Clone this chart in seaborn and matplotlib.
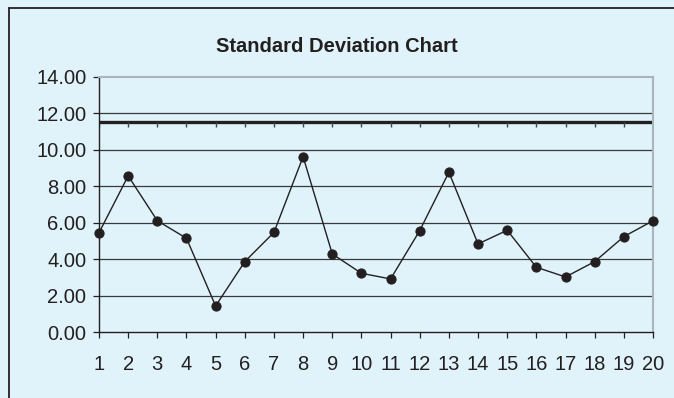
import matplotlib
matplotlib.use("Agg")
import matplotlib.pyplot as plt
from matplotlib.lines import Line2D
from matplotlib.ticker import FormatStrFormatter
import seaborn as sns
import pandas as pd

# Subgroup numbers and their standard deviations
samples = list(range(1, 21))
std_dev = [5.46, 8.58, 6.12, 5.16, 1.45, 3.88, 5.48, 9.63, 4.30, 3.24,
           2.93, 5.58, 8.78, 4.85, 5.60, 3.57, 3.04, 3.88, 5.25, 6.12]
ucl = 11.56
y_ticks = [0, 2, 4, 6, 8, 10, 12, 14]

bg = "#e0f3fb"
ink = "#231f20"

sns.set_theme(style="white")
plt.rcParams["font.family"] = ["Liberation Sans", "DejaVu Sans"]

fig = plt.figure(figsize=(6.74, 3.98), dpi=100, facecolor=bg)
ax = fig.add_axes([99 / 674, 1 - 332.4 / 398, (653 - 99) / 674, (332.4 - 77) / 398])
ax.set_facecolor(bg)

df = pd.DataFrame({"sample": samples, "sd": std_dev})

# horizontal grid
for v in y_ticks[1:-1]:
    ax.axhline(v, color="#3a3a3a", lw=0.9, zorder=1)

# control limit with small tick marks at each subgroup
ucl_df = pd.DataFrame({"sample": samples, "ucl": [ucl] * len(samples)})
sns.lineplot(data=ucl_df, x="sample", y="ucl", ax=ax, color=ink, lw=2.4,
             marker=3, markersize=3.5, markeredgewidth=1.0, markeredgecolor="#444444",
             zorder=2)

sns.lineplot(data=df, x="sample", y="sd", ax=ax, color=ink, lw=1.0,
             marker="o", markersize=6.6, markeredgecolor=ink, markerfacecolor=ink,
             zorder=3, clip_on=False)

ax.set_xlim(1, 20)
ax.set_ylim(0, 14)
ax.set_xticks(samples)
ax.set_xticklabels([str(s) for s in samples])
ax.set_yticks(y_ticks)
ax.yaxis.set_major_formatter(FormatStrFormatter("%.2f"))
ax.set_xlabel("")
ax.set_ylabel("")

ax.tick_params(axis="both", which="major", direction="out", length=4.0, width=0.9,
               color=ink, labelsize=14.5, labelcolor=ink)
ax.tick_params(axis="x", pad=12)
ax.tick_params(axis="y", pad=5)
ax.tick_params(bottom=True, left=True)

for side in ["left", "bottom"]:
    ax.spines[side].set_color(ink)
    ax.spines[side].set_linewidth(1.0)
for side in ["top", "right"]:
    ax.spines[side].set_color("#a9b4bc")
    ax.spines[side].set_linewidth(1.5)

fig.text(337 / 674, 1 - 46 / 398, "Standard Deviation Chart", ha="center", va="center",
         fontsize=14.5, fontweight="bold", color=ink)

# outer panel frame
fig.add_artist(Line2D([8.5 / 674, 8.5 / 674], [0, 1 - 7.5 / 398], transform=fig.transFigure,
                      color=ink, lw=1.3))
fig.add_artist(Line2D([8.5 / 674, 1], [1 - 7.5 / 398, 1 - 7.5 / 398], transform=fig.transFigure,
                      color=ink, lw=1.3))

fig.savefig("out.png", dpi=100, facecolor=bg)
